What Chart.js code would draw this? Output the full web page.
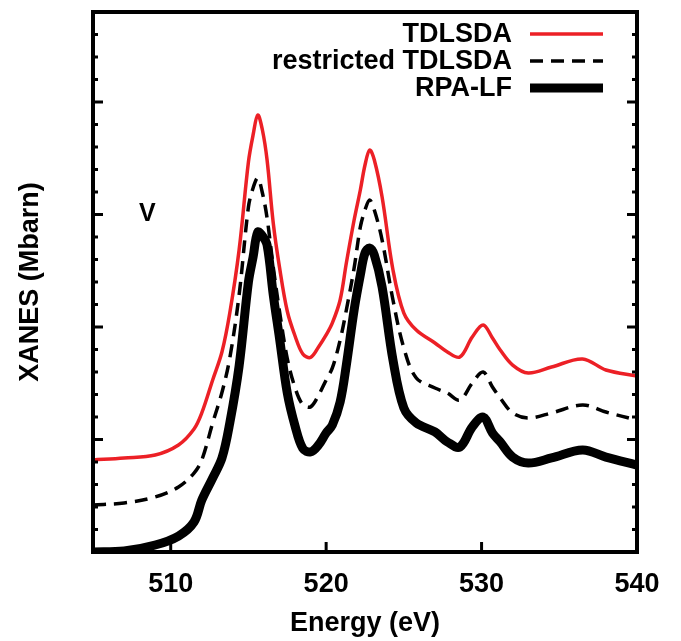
<!DOCTYPE html>
<html>
<head>
<meta charset="utf-8">
<script src="https://cdn.jsdelivr.net/npm/chart.js@4"></script>
<style>
    body { margin: 0; background: #fff; }
    canvas { display: block; }
</style>
</head>
<body>
<canvas id="myChart" width="681" height="641"></canvas>
<script>
// values (Energy in eV, XANES in arbitrary Mbarn offsets)
const energy = [505, 507, 509, 510.5, 511.5, 512, 512.7, 513.3, 513.8, 514.4,
    515, 515.3, 515.6, 515.9, 516.2, 516.6, 517, 517.5, 518, 518.5,
    519, 519.5, 520, 520.4, 520.9, 521.3, 521.8, 522.2, 522.5, 522.8,
    523.1, 523.6, 524.3, 525, 525.8, 527, 527.8, 528.6, 529.4, 530.1,
    530.7, 531.2, 532, 533, 534.5, 536.5, 538, 540];

const tdlsda = [0.818, 0.836, 0.862, 0.951, 1.093, 1.236, 1.529, 1.78, 2.124, 2.684,
    3.467, 3.707, 3.884, 3.751, 3.484, 2.92, 2.53, 2.14, 1.92, 1.76,
    1.73, 1.82, 1.929, 2.036, 2.240, 2.569, 2.951, 3.218, 3.440, 3.573,
    3.484, 3.156, 2.507, 2.124, 1.973, 1.858, 1.778, 1.733, 1.911, 2.018,
    1.902, 1.796, 1.662, 1.591, 1.644, 1.716, 1.618, 1.564];

const restricted = [0.418, 0.436, 0.489, 0.578, 0.702, 0.818, 1.147, 1.42, 1.724, 2.284,
    3.067, 3.236, 3.324, 3.191, 2.969, 2.53, 2.14, 1.72, 1.46, 1.31,
    1.29, 1.39, 1.529, 1.636, 1.884, 2.151, 2.524, 2.889, 3.040, 3.129,
    3.040, 2.773, 2.240, 1.813, 1.547, 1.458, 1.413, 1.351, 1.502, 1.600,
    1.467, 1.369, 1.236, 1.191, 1.236, 1.307, 1.244, 1.173];

const rpaLf = [0.0, 0.009, 0.062, 0.142, 0.267, 0.462, 0.658, 0.836, 1.147, 1.653,
    2.400, 2.622, 2.844, 2.809, 2.729, 2.284, 1.9, 1.413, 1.12, 0.92,
    0.89, 0.95, 1.058, 1.129, 1.333, 1.662, 2.151, 2.462, 2.658, 2.702,
    2.640, 2.356, 1.707, 1.280, 1.147, 1.067, 0.978, 0.933, 1.111, 1.200,
    1.058, 0.978, 0.844, 0.791, 0.836, 0.907, 0.844, 0.773];

const seriesNames = ['TDLSDA', 'restricted TDLSDA', 'RPA-LF'];
const xTicks = [510, 520, 530, 540];
const yMax = 4.8;
const yMinorStep = 0.2;

const FONT = '"Liberation Sans", Arial, Helvetica, sans-serif';

function toPoints(xs, ys) {
    return xs.map((x, i) => ({x: x, y: ys[i]}));
}

// gnuplot-like frame, inward ticks, legend and the "V" label
const framePlugin = {
    id: 'frame',
    afterDatasetsDraw(chart) {
        const ctx = chart.ctx;
        const area = chart.chartArea;
        const xs = chart.scales.x;
        const ys = chart.scales.y;
        ctx.save();
        ctx.strokeStyle = '#000';
        ctx.lineWidth = 4;
        ctx.setLineDash([]);
        ctx.strokeRect(area.left, area.top, area.right - area.left, area.bottom - area.top);

        // y ticks on both sides
        ctx.lineWidth = 3;
        const n = Math.round(yMax / yMinorStep);
        for (let i = 1; i < n; i++) {
            const py = ys.getPixelForValue(i * yMinorStep);
            const len = (i % 5 === 0) ? 10 : 5;
            ctx.beginPath();
            ctx.moveTo(area.left, py);
            ctx.lineTo(area.left + len, py);
            ctx.moveTo(area.right, py);
            ctx.lineTo(area.right - len, py);
            ctx.stroke();
        }
        // x ticks along the bottom
        xTicks.forEach((v) => {
            const px = xs.getPixelForValue(v);
            ctx.beginPath();
            ctx.moveTo(px, area.bottom);
            ctx.lineTo(px, area.bottom - 10);
            ctx.stroke();
        });

        // legend: text right aligned, sample line to the right
        ctx.font = 'bold 27px ' + FONT;
        ctx.textAlign = 'right';
        ctx.textBaseline = 'middle';
        ctx.fillStyle = '#000';
        chart.data.datasets.forEach((ds, i) => {
            const y = area.top + 22 + i * 27;
            ctx.fillText(ds.label, area.right - 125, y + 1);
            ctx.strokeStyle = ds.borderColor;
            ctx.lineWidth = ds.borderWidth;
            ctx.setLineDash(ds.borderDash || []);
            ctx.beginPath();
            ctx.moveTo(area.right - 107, y);
            ctx.lineTo(area.right - 34, y);
            ctx.stroke();
        });
        ctx.setLineDash([]);

        ctx.font = 'bold 25px ' + FONT;
        ctx.textAlign = 'center';
        ctx.fillText('V', xs.getPixelForValue(508.5), ys.getPixelForValue(3.0));
        ctx.restore();
    }
};

function loadChart(id) {
    const ctx = document.getElementById(id);

    new Chart(ctx, {
        type: 'line',
        data: {
            datasets: [{
                label: seriesNames[0],
                data: toPoints(energy, tdlsda),
                borderColor: 'rgb(236,32,38)',
                borderWidth: 3.5
            }, {
                label: seriesNames[1],
                data: toPoints(energy, restricted),
                borderColor: '#000',
                borderWidth: 3.5,
                borderDash: [13, 8]
            }, {
                label: seriesNames[2],
                data: toPoints(energy, rpaLf),
                borderColor: '#000',
                borderWidth: 9
            }]
        },
        options: {
            responsive: false,
            animation: false,
            devicePixelRatio: 1,
            layout: { padding: { top: 12, right: 44, left: 0, bottom: 0 } },
            elements: {
                point: { radius: 0 },
                line: { tension: 0.35, borderCapStyle: 'butt', borderJoinStyle: 'round' }
            },
            plugins: {
                legend: { display: false },
                tooltip: { enabled: false }
            },
            scales: {
                x: {
                    type: 'linear',
                    min: 505,
                    max: 540,
                    border: { display: false },
                    grid: { display: false, drawTicks: false },
                    afterBuildTicks: (s) => {
                        s.ticks = xTicks.map((v) => ({value: v}));
                    },
                    afterFit: (s) => { s.height = 89; },
                    ticks: {
                        padding: 16,
                        color: '#000',
                        font: { family: FONT, size: 27, weight: 'bold' }
                    },
                    title: {
                        display: true,
                        text: 'Energy (eV)',
                        color: '#000',
                        padding: { top: 0, bottom: 1 },
                        font: { family: FONT, size: 27, weight: 'bold' }
                    }
                },
                y: {
                    min: 0,
                    max: yMax,
                    border: { display: false },
                    grid: { display: false, drawTicks: false },
                    ticks: { display: false },
                    afterFit: (s) => { s.width = 93; },
                    title: {
                        display: true,
                        text: 'XANES (Mbarn)',
                        color: '#000',
                        padding: { top: 14, bottom: 0 },
                        font: { family: FONT, size: 27, weight: 'bold' }
                    }
                }
            }
        },
        plugins: [framePlugin]
    });
}

window.onload = (event) => {
    loadChart('myChart');
};
</script>
</body>
</html>
